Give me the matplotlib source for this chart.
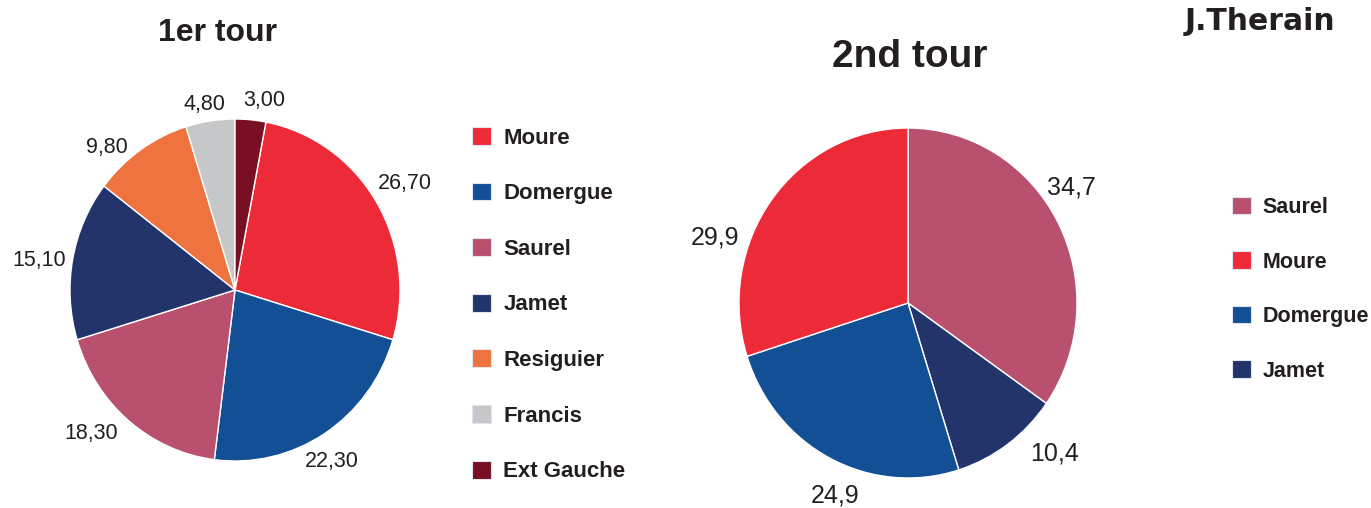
import numpy as np
import matplotlib
matplotlib.use("Agg")
import matplotlib.pyplot as plt
from matplotlib.patches import Patch

# données
noms_t1 = ['Moure', 'Domergue', 'Saurel', 'Jamet', 'Resiguier', 'Francis', 'Ext Gauche']
valeurs_t1 = [26.70, 22.30, 18.30, 15.10, 9.80, 4.80, 3.00]
etiquettes_t1 = ['26,70', '22,30', '18,30', '15,10', '9,80', '4,80', '3,00']

noms_t2 = ['Saurel', 'Jamet', 'Domergue', 'Moure']
valeurs_t2 = [34.7, 10.4, 24.9, 29.9]
etiquettes_t2 = ['34,7', '10,4', '24,9', '29,9']
legende_t2 = ['Saurel', 'Moure', 'Domergue', 'Jamet']

couleurs = {
    'Moure': '#EC2A38',
    'Domergue': '#134F94',
    'Saurel': '#B8506E',
    'Jamet': '#22346A',
    'Resiguier': '#EE733E',
    'Francis': '#C6C7C9',
    'Ext Gauche': '#780F22',
}

W, H = 1371, 508
fig = plt.figure(figsize=(W / 100, H / 100), dpi=100)
police = 'Liberation Sans'


def axe_px(cx, cy, rx, ry):
    # axe placé en pixels (centre, rayons)
    return fig.add_axes([(cx - rx) / W, (H - cy - ry) / H, 2 * rx / W, 2 * ry / H])


def camembert(ax, valeurs, noms, etiquettes, start, decal, rayons, taille):
    wedges, _ = ax.pie(valeurs, colors=[couleurs[n] for n in noms], startangle=start,
                       counterclock=False, wedgeprops=dict(edgecolor='white', linewidth=1))
    ax.set_xlim(-1, 1)
    ax.set_ylim(-1, 1)
    ax.set_aspect('auto')
    ax.axis('off')
    for w, lab, d, r in zip(wedges, etiquettes, decal, rayons):
        a = np.deg2rad((w.theta1 + w.theta2) / 2 + d)
        ax.text(r * np.cos(a), r * np.sin(a), lab, ha='center', va='center',
                fontsize=taille, family=police, color='#231F20')


# 1er tour
ax1 = axe_px(235, 290, 165, 171)
start1 = 90 - 360 * valeurs_t1[-1] / sum(valeurs_t1)
camembert(ax1, valeurs_t1, noms_t1, etiquettes_t1, start1,
          [0, -2.5, -6, 2, 8, 1, -3.6], [1.2, 1.16, 1.21, 1.2, 1.14, 1.1, 1.12], 15.5)
fig.text(218 / W, 1 - 33 / H, '1er tour', ha='center', va='center', fontsize=23,
         fontweight='bold', family=police, color='#231F20')

# 2nd tour
ax2 = axe_px(908, 303, 169, 175)
camembert(ax2, valeurs_t2, noms_t2, etiquettes_t2, 90,
          [7, 9, 6, 18], [1.17, 1.22, 1.18, 1.2], 18)
fig.text(910 / W, 1 - 57 / H, '2nd tour', ha='center', va='center', fontsize=28,
         fontweight='bold', family=police, color='#231F20')

fig.text(1185 / W, 1 - 22 / H, 'J.Therain', ha='left', va='center', fontsize=21.5,
         fontweight='bold', family='DejaVu Sans', color='#231F20')

# légendes
def legende(noms, x, y, taille, esp):
    h = [Patch(facecolor=couleurs[n], edgecolor='#E0E4EE', linewidth=0.8) for n in noms]
    leg = fig.legend(h, noms, loc='upper left', bbox_to_anchor=(x / W, 1 - y / H),
                     frameon=False, handlelength=0.86, handleheight=0.86,
                     handletextpad=0.55, labelspacing=esp, borderaxespad=0, borderpad=0,
                     prop=dict(family=police, weight='bold', size=taille))
    for t in leg.get_texts():
        t.set_color('#231F20')


legende(noms_t1, 472, 127, 16, 1.53)
legende(legende_t2, 1232, 197, 15.5, 1.55)

fig.savefig('out.png', dpi=100)
